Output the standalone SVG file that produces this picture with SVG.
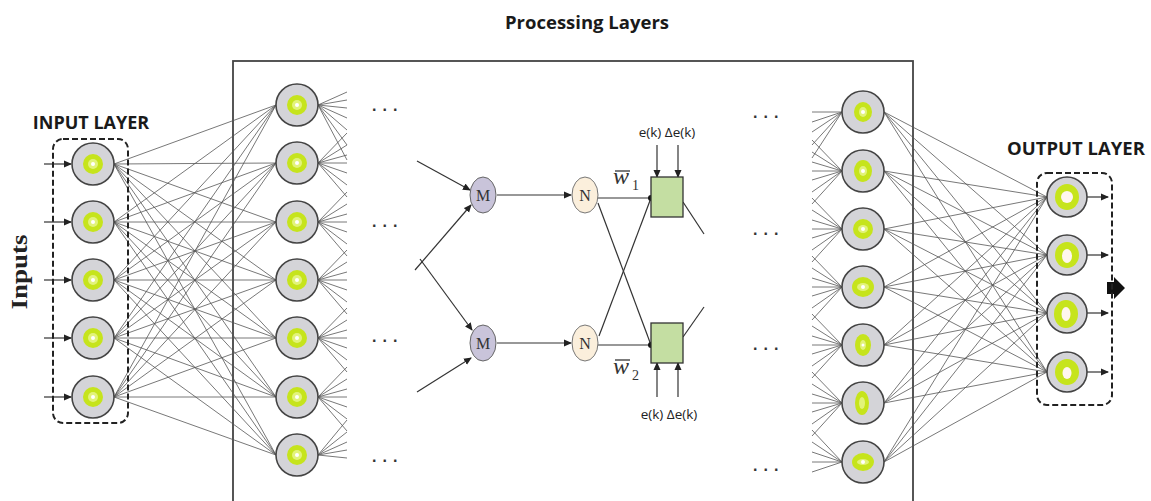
<svg xmlns="http://www.w3.org/2000/svg" width="1151" height="501" viewBox="0 0 1151 501">
<defs>
<style>
.lbl{font-family:"Open Sans","Liberation Sans",sans-serif;font-weight:bold;fill:#1a1a1a}
.small{font-family:"Open Sans","Liberation Sans",sans-serif;font-size:13.5px;fill:#222}
.serif{font-family:"Liberation Serif",serif;fill:#333}
.conn{fill:none;stroke:#555;stroke-width:0.8}
.line{fill:none;stroke:#333;stroke-width:1.2}
.node{fill:#d4d4d8;stroke:#444;stroke-width:1.6}
.core{fill:#c6e41c}
.halo{fill:#e2f37a}
.dot{fill:#fff}
.dash{fill:none;stroke:#222;stroke-width:2;stroke-dasharray:6 3}
.ell{font-family:"Liberation Sans",sans-serif;font-size:16px;fill:#333;font-weight:bold;letter-spacing:6px}
</style>
<marker id="ah" markerWidth="8" markerHeight="8" refX="7" refY="4" orient="auto" markerUnits="userSpaceOnUse">
<path d="M0,0.5 L8,4 L0,7.5 z" fill="#222"/>
</marker>
</defs>
<rect width="1151" height="501" fill="#fff"/>

<text class="lbl" x="587" y="29" font-size="18.5" text-anchor="middle">Processing Layers</text>
<rect x="233" y="61" width="680" height="470" fill="none" stroke="#444" stroke-width="1.8"/>

<g id="connectors">
<path class="conn" d="M114 164L276 105M114 164L276 163M114 164L276 222M114 164L276 280M114 164L276 338M114 164L276 397M114 164L276 455M114 222L276 105M114 222L276 163M114 222L276 222M114 222L276 280M114 222L276 338M114 222L276 397M114 222L276 455M114 280L276 105M114 280L276 163M114 280L276 222M114 280L276 280M114 280L276 338M114 280L276 397M114 280L276 455M114 338L276 105M114 338L276 163M114 338L276 222M114 338L276 280M114 338L276 338M114 338L276 397M114 338L276 455M114 397L276 105M114 397L276 163M114 397L276 222M114 397L276 280M114 397L276 338M114 397L276 397M114 397L276 455"/>
<path class="conn" d="M318 105L347 92M318 105L347 100M318 105L347 108M318 105L347 118M318 105L347 130M318 105L347 145M318 105L347 160M318 163L347 133M318 163L347 145M318 163L347 155M318 163L347 163M318 163L347 173M318 163L347 185M318 163L347 197M318 222L347 192M318 222L347 204M318 222L347 214M318 222L347 222M318 222L347 232M318 222L347 244M318 222L347 256M318 280L347 250M318 280L347 262M318 280L347 272M318 280L347 280M318 280L347 290M318 280L347 302M318 280L347 314M318 338L347 308M318 338L347 320M318 338L347 330M318 338L347 338M318 338L347 348M318 338L347 360M318 338L347 372M318 397L347 367M318 397L347 379M318 397L347 389M318 397L347 397M318 397L347 407M318 397L347 419M318 397L347 431M318 455L347 420M318 455L347 432M318 455L347 442M318 455L347 450M318 455L347 458"/>
<path class="conn" d="M812 112L842 112M812 122L842 112M812 132L842 112M812 145L842 112M812 158L842 112M812 140L842 171M812 152L842 171M812 162L842 171M812 171L842 171M812 180L842 171M812 192L842 171M812 204L842 171M812 198L842 229M812 210L842 229M812 220L842 229M812 229L842 229M812 238L842 229M812 250L842 229M812 262L842 229M812 256L842 287M812 268L842 287M812 278L842 287M812 287L842 287M812 296L842 287M812 308L842 287M812 320L842 287M812 314L842 345M812 326L842 345M812 336L842 345M812 345L842 345M812 354L842 345M812 366L842 345M812 378L842 345M812 372L842 403M812 384L842 403M812 394L842 403M812 403L842 403M812 412L842 403M812 424L842 403M812 436L842 403M812 430L842 462M812 442L842 462M812 452L842 462M812 462L842 462M812 472L842 462"/>
<path class="conn" d="M884 112L1047 197M884 112L1047 255M884 112L1047 313M884 112L1047 372M884 171L1047 197M884 171L1047 255M884 171L1047 313M884 171L1047 372M884 229L1047 197M884 229L1047 255M884 229L1047 313M884 229L1047 372M884 287L1047 197M884 287L1047 255M884 287L1047 313M884 287L1047 372M884 345L1047 197M884 345L1047 255M884 345L1047 313M884 345L1047 372M884 403L1047 197M884 403L1047 255M884 403L1047 313M884 403L1047 372M884 462L1047 197M884 462L1047 255M884 462L1047 313M884 462L1047 372"/>
<g class="line" marker-end="url(#ah)">
<line x1="44" y1="164" x2="71" y2="164"/>
<line x1="44" y1="222" x2="71" y2="222"/>
<line x1="44" y1="280" x2="71" y2="280"/>
<line x1="44" y1="338" x2="71" y2="338"/>
<line x1="44" y1="397" x2="71" y2="397"/>
<line x1="1087" y1="197" x2="1108" y2="197"/>
<line x1="1087" y1="255" x2="1108" y2="255"/>
<line x1="1087" y1="313" x2="1108" y2="313"/>
<line x1="1087" y1="372" x2="1108" y2="372"/>
<line x1="417" y1="161" x2="470" y2="190"/>
<line x1="415" y1="270" x2="471" y2="205"/>
<line x1="420" y1="259" x2="472" y2="330"/>
<line x1="417" y1="392" x2="471" y2="358"/>
<line x1="497" y1="195" x2="571" y2="195"/>
<line x1="497" y1="343" x2="571" y2="343"/>
<line x1="657" y1="145" x2="657" y2="177"/>
<line x1="678" y1="145" x2="678" y2="177"/>
<line x1="657" y1="397" x2="657" y2="363"/>
<line x1="678" y1="397" x2="678" y2="363"/>
</g>
<g class="line">
<line x1="598" y1="198" x2="651" y2="198"/>
<line x1="598" y1="345" x2="651" y2="345"/>
<line x1="598" y1="203" x2="651" y2="345"/>
<line x1="599" y1="336" x2="651" y2="198"/>
<line x1="683" y1="202" x2="704" y2="234"/>
<line x1="683" y1="337" x2="704" y2="307"/>
</g>
<circle cx="651" cy="198" r="3" fill="#111"/>
<circle cx="651" cy="345" r="3" fill="#111"/>
<polygon points="1107,282 1114,282 1114,277 1125,288 1114,299 1114,294 1107,294" fill="#111"/>
</g>

<g id="input-layer">
<rect class="dash" x="53" y="139" width="75" height="284" rx="10"/>
<text class="lbl" x="91" y="129" font-size="18" text-anchor="middle">INPUT LAYER</text>
<text class="serif" font-weight="bold" font-size="24" transform="translate(27,272) rotate(-90)" text-anchor="middle" textLength="75" lengthAdjust="spacingAndGlyphs" style="fill:#222">Inputs</text>
<g id="in1"><circle class="node" cx="93" cy="164" r="21"/><ellipse class="core" cx="93" cy="164" rx="10" ry="10"/><ellipse class="halo" cx="93" cy="164" rx="5" ry="5"/><circle class="dot" cx="93" cy="164" r="2"/></g>
<g id="in2"><circle class="node" cx="93" cy="222" r="21"/><ellipse class="core" cx="93" cy="222" rx="10" ry="10"/><ellipse class="halo" cx="93" cy="222" rx="5" ry="5"/><circle class="dot" cx="93" cy="222" r="2"/></g>
<g id="in3"><circle class="node" cx="93" cy="280" r="21"/><ellipse class="core" cx="93" cy="280" rx="10" ry="10"/><ellipse class="halo" cx="93" cy="280" rx="5" ry="5"/><circle class="dot" cx="93" cy="280" r="2"/></g>
<g id="in4"><circle class="node" cx="93" cy="338" r="21"/><ellipse class="core" cx="93" cy="338" rx="10" ry="10"/><ellipse class="halo" cx="93" cy="338" rx="5" ry="5"/><circle class="dot" cx="93" cy="338" r="2"/></g>
<g id="in5"><circle class="node" cx="93" cy="397" r="21"/><ellipse class="core" cx="93" cy="397" rx="10" ry="10"/><ellipse class="halo" cx="93" cy="397" rx="5" ry="5"/><circle class="dot" cx="93" cy="397" r="2"/></g>
</g>

<g id="hidden-1">
<g id="h1a"><circle class="node" cx="297" cy="105" r="21"/><ellipse class="core" cx="297" cy="105" rx="10" ry="10"/><ellipse class="halo" cx="297" cy="105" rx="5" ry="5"/><circle class="dot" cx="297" cy="105" r="2"/></g>
<g id="h1b"><circle class="node" cx="297" cy="163" r="21"/><ellipse class="core" cx="297" cy="163" rx="10" ry="10"/><ellipse class="halo" cx="297" cy="163" rx="5" ry="5"/><circle class="dot" cx="297" cy="163" r="2"/></g>
<g id="h1c"><circle class="node" cx="297" cy="222" r="21"/><ellipse class="core" cx="297" cy="222" rx="10" ry="10"/><ellipse class="halo" cx="297" cy="222" rx="5" ry="5"/><circle class="dot" cx="297" cy="222" r="2"/></g>
<g id="h1d"><circle class="node" cx="297" cy="280" r="21"/><ellipse class="core" cx="297" cy="280" rx="10" ry="10"/><ellipse class="halo" cx="297" cy="280" rx="5" ry="5"/><circle class="dot" cx="297" cy="280" r="2"/></g>
<g id="h1e"><circle class="node" cx="297" cy="338" r="21"/><ellipse class="core" cx="297" cy="338" rx="10" ry="10"/><ellipse class="halo" cx="297" cy="338" rx="5" ry="5"/><circle class="dot" cx="297" cy="338" r="2"/></g>
<g id="h1f"><circle class="node" cx="297" cy="397" r="21"/><ellipse class="core" cx="297" cy="397" rx="10" ry="10"/><ellipse class="halo" cx="297" cy="397" rx="5" ry="5"/><circle class="dot" cx="297" cy="397" r="2"/></g>
<g id="h1g"><circle class="node" cx="297" cy="455" r="21"/><ellipse class="core" cx="297" cy="455" rx="10" ry="10"/><ellipse class="halo" cx="297" cy="455" rx="5" ry="5"/><circle class="dot" cx="297" cy="455" r="2"/></g>
<text class="ell" x="372" y="111">...</text>
<text class="ell" x="372" y="227">...</text>
<text class="ell" x="372" y="342">...</text>
<text class="ell" x="372" y="462">...</text>
</g>

<g id="middle">
<g id="m1"><ellipse cx="483" cy="195" rx="13" ry="18" fill="#c9c4da" stroke="#666" stroke-width="1"/><text class="serif" x="483" y="201" font-size="16" text-anchor="middle">M</text></g>
<g id="m2"><ellipse cx="483" cy="343" rx="13" ry="18" fill="#c9c4da" stroke="#666" stroke-width="1"/><text class="serif" x="483" y="349" font-size="16" text-anchor="middle">M</text></g>
<g id="n1"><ellipse cx="585" cy="195" rx="13" ry="18" fill="#fbefdc" stroke="#777" stroke-width="1"/><text class="serif" x="585" y="201" font-size="16" text-anchor="middle">N</text></g>
<g id="n2"><ellipse cx="585" cy="343" rx="13" ry="18" fill="#fbefdc" stroke="#777" stroke-width="1"/><text class="serif" x="585" y="349" font-size="16" text-anchor="middle">N</text></g>
<g id="f1"><rect x="651" y="177" width="32" height="40" fill="#c4dea2" stroke="#333" stroke-width="1.3"/></g>
<g id="f2"><rect x="651" y="323" width="32" height="40" fill="#c4dea2" stroke="#333" stroke-width="1.3"/></g>
<text class="serif" x="613" y="184" font-size="24" font-style="italic">w<tspan font-size="14" font-style="normal" dx="3" dy="6">1</tspan></text>
<line x1="615" y1="171" x2="630" y2="171" stroke="#333" stroke-width="1.3"/>
<text class="serif" x="613" y="374" font-size="24" font-style="italic">w<tspan font-size="14" font-style="normal" dx="3" dy="6">2</tspan></text>
<line x1="615" y1="360" x2="630" y2="360" stroke="#333" stroke-width="1.3"/>
<text class="small" x="667" y="137" text-anchor="middle">e(k) Δe(k)</text>
<text class="small" x="669" y="419" text-anchor="middle">e(k) Δe(k)</text>
</g>

<g id="hidden-2">
<text class="ell" x="753" y="118">...</text>
<text class="ell" x="753" y="235">...</text>
<text class="ell" x="753" y="350">...</text>
<text class="ell" x="753" y="471">...</text>
<g id="h2a"><circle class="node" cx="863" cy="112" r="21"/><ellipse class="core" cx="863" cy="112" rx="9" ry="10"/><ellipse class="halo" cx="863" cy="112" rx="4" ry="5"/><circle class="dot" cx="863" cy="112" r="2"/></g>
<g id="h2b"><circle class="node" cx="863" cy="171" r="21"/><ellipse class="core" cx="863" cy="171" rx="9" ry="11"/><ellipse class="halo" cx="863" cy="171" rx="4" ry="5"/><circle class="dot" cx="863" cy="171" r="2"/></g>
<g id="h2c"><circle class="node" cx="863" cy="229" r="21"/><ellipse class="core" cx="863" cy="229" rx="10" ry="10"/><ellipse class="halo" cx="863" cy="229" rx="5" ry="4"/><circle class="dot" cx="863" cy="229" r="2"/></g>
<g id="h2d"><circle class="node" cx="863" cy="287" r="21"/><ellipse class="core" cx="863" cy="287" rx="11" ry="10"/><ellipse class="halo" cx="863" cy="287" rx="6" ry="4"/><circle class="dot" cx="863" cy="287" r="2"/></g>
<g id="h2e"><circle class="node" cx="863" cy="345" r="21"/><ellipse class="core" cx="863" cy="345" rx="8" ry="11"/><ellipse class="halo" cx="863" cy="345" rx="3" ry="5"/><circle class="dot" cx="863" cy="345" r="1.5"/></g>
<g id="h2f"><circle class="node" cx="863" cy="403" r="21"/><ellipse class="core" cx="862" cy="403" rx="7" ry="12"/><ellipse class="halo" cx="862" cy="403" rx="3" ry="6"/></g>
<g id="h2g"><circle class="node" cx="863" cy="462" r="21"/><ellipse class="core" cx="863" cy="462" rx="11" ry="9"/><ellipse class="halo" cx="863" cy="462" rx="6" ry="3"/><circle class="dot" cx="863" cy="462" r="2"/></g>
</g>

<g id="output-layer">
<rect class="dash" x="1037" y="173" width="75" height="232" rx="10"/>
<text class="lbl" x="1076" y="155" font-size="18.5" text-anchor="middle">OUTPUT LAYER</text>
<g id="o1"><circle class="node" cx="1067" cy="197" r="20"/><ellipse class="core" cx="1067" cy="197" rx="12" ry="13"/><ellipse fill="#fff6ee" cx="1067" cy="197" rx="6" ry="6"/></g>
<g id="o2"><circle class="node" cx="1067" cy="255" r="20"/><ellipse class="core" cx="1067" cy="255" rx="12" ry="13"/><ellipse fill="#fff6ee" cx="1067" cy="256" rx="5" ry="7"/></g>
<g id="o3"><circle class="node" cx="1067" cy="313" r="20"/><ellipse class="core" cx="1066" cy="314" rx="12" ry="14"/><ellipse fill="#fff6ee" cx="1066" cy="314" rx="4.5" ry="7"/></g>
<g id="o4"><circle class="node" cx="1067" cy="372" r="20"/><ellipse class="core" cx="1067" cy="372" rx="12" ry="13"/><ellipse fill="#fff6ee" cx="1067" cy="373" rx="4.5" ry="6"/></g>
</g>
</svg>
